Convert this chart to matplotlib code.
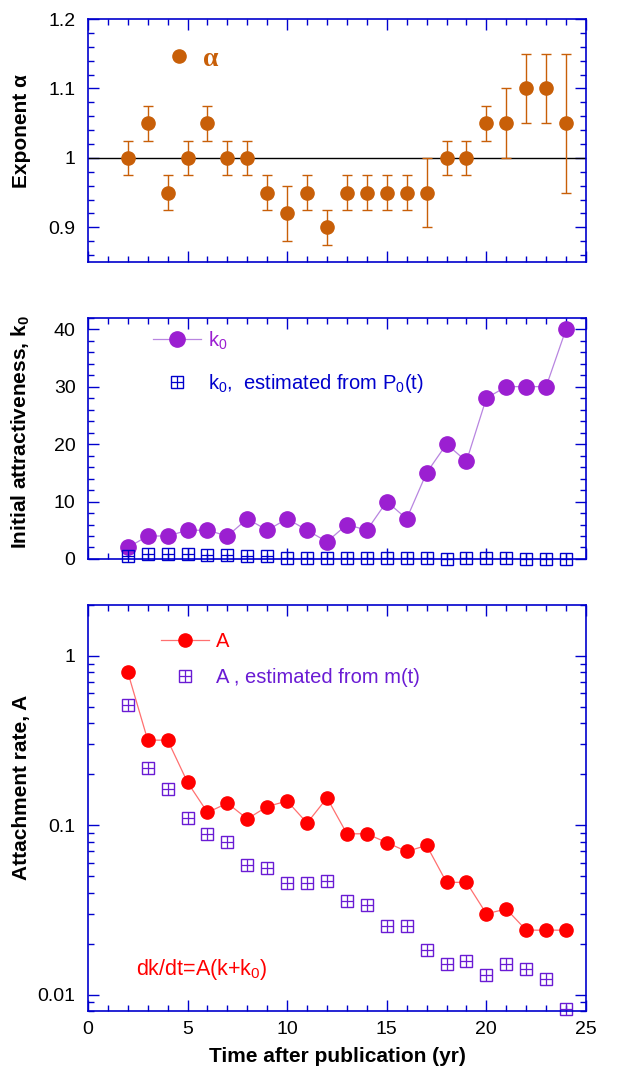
import numpy as np
import matplotlib
matplotlib.use('Agg')
import matplotlib.pyplot as plt
from matplotlib.ticker import MultipleLocator, FixedLocator, NullFormatter, LogLocator

plt.rcParams['font.family'] = ['Liberation Sans', 'DejaVu Sans']
plt.rcParams['mathtext.fontset'] = 'custom'
plt.rcParams['mathtext.rm'] = 'Liberation Sans'
plt.rcParams['mathtext.it'] = 'Liberation Sans:italic'
plt.rcParams['mathtext.bf'] = 'Liberation Sans:bold'

# data
years = list(range(2, 25))

alpha = [1.00, 1.05, 0.95, 1.00, 1.05, 1.00, 1.00, 0.95, 0.92, 0.95, 0.90, 0.95,
         0.95, 0.95, 0.95, 0.95, 1.00, 1.00, 1.05, 1.05, 1.10, 1.10, 1.05]
alpha_err = [0.025, 0.025, 0.025, 0.025, 0.025, 0.025, 0.025, 0.025, 0.04, 0.025, 0.025, 0.025,
             0.025, 0.025, 0.025, 0.05, 0.025, 0.025, 0.025, 0.05, 0.05, 0.05, 0.10]

k0 = [2, 4, 4, 5, 5, 4, 7, 5, 7, 5, 3, 6, 5, 10, 7, 15, 20, 17, 28, 30, 30, 30, 40]
k0_est = [0.6, 0.9, 0.9, 0.8, 0.7, 0.7, 0.45, 0.45, 0.25, 0.25, 0.25, 0.12,
          0.25, 0.25, 0.12, 0.12, 0.02, 0.25, 0.1, 0.1, 0.05, 0.05, 0.05]

A = [0.80, 0.318, 0.318, 0.179, 0.119, 0.135, 0.109, 0.129, 0.139, 0.103, 0.145, 0.089,
     0.089, 0.079, 0.070, 0.076, 0.046, 0.046, 0.030, 0.032, 0.024, 0.024, 0.024]
A_est = [0.515, 0.219, 0.164, 0.111, 0.089, 0.080, 0.0585, 0.0557, 0.0457, 0.0457, 0.047,
         0.0358, 0.0336, 0.0255, 0.0255, 0.0183, 0.0151, 0.0157, 0.0131, 0.0151, 0.0142,
         0.0124, 0.0082]

orange = '#C85F08'
purple = '#9B1FD1'
purple_line = '#B885E0'
blue = '#0000CC'
red = '#FF0000'
red_line = '#FF7070'
violet = '#6A1BD4'
axcol = '#0000CD'

fig = plt.figure(figsize=(6.17, 10.69), dpi=100)
left, width = 0.1426, 0.8071
ax1 = fig.add_axes([left, 0.7549, width, 0.2273])
ax2 = fig.add_axes([left, 0.4771, width, 0.2257])
ax3 = fig.add_axes([left, 0.0543, width, 0.3798])


def style(ax):
    for s in ax.spines.values():
        s.set_color(axcol)
        s.set_linewidth(1.2)
    ax.tick_params(which='both', direction='in', top=True, right=True, color=axcol,
                   labelsize=14, labelcolor='black')
    ax.tick_params(which='major', length=8, width=1)
    ax.tick_params(which='minor', length=4.5, width=1)
    ax.tick_params(axis='y', pad=9)
    ax.tick_params(axis='x', pad=7)
    ax.set_xlim(0, 25)
    ax.xaxis.set_major_locator(MultipleLocator(5))
    ax.xaxis.set_minor_locator(MultipleLocator(1))


# top panel: exponent alpha
style(ax1)
ax1.axhline(1, color='black', lw=1)
eb = ax1.errorbar(years, alpha, yerr=alpha_err, fmt='o', color=orange, ms=9.5,
                  ecolor=orange, elinewidth=1, capsize=3.5, capthick=1)
ax1.set_ylim(0.85, 1.2)
ax1.yaxis.set_major_locator(FixedLocator([0.9, 1.0, 1.1, 1.2]))
ax1.yaxis.set_minor_locator(MultipleLocator(0.02))
ax1.set_yticklabels(['0.9', '1', '1.1', '1.2'])
ax1.tick_params(axis='x', labelbottom=False)
ax1.set_ylabel('Exponent α', fontsize=15, fontweight='bold', va='baseline')
ax1.yaxis.set_label_coords(-0.1225, 0.539)
leg1 = ax1.legend([eb[0]], ['α'], loc='center left', bbox_to_anchor=(0.154, 0.835),
                  frameon=False, handlelength=1.0, handletextpad=0.37, borderpad=0,
                  borderaxespad=0,
                  prop={'family': 'Liberation Serif', 'weight': 'bold', 'size': 20})
for t in leg1.get_texts():
    t.set_color(orange)

# middle panel: initial attractiveness
style(ax2)
h1, = ax2.plot(years, k0, '-o', color=purple_line, lw=0.9, ms=11, mfc=purple, mec=purple)
hs, = ax2.plot(years, k0_est, 's', mfc='none', mec=blue, ms=8.4, mew=1, clip_on=False)
hp, = ax2.plot(years, k0_est, '+', mec=blue, ms=8.4, mew=0.9, clip_on=False)
ax2.set_ylim(0, 42)
ax2.yaxis.set_major_locator(MultipleLocator(10))
ax2.yaxis.set_minor_locator(MultipleLocator(2))
ax2.tick_params(axis='x', labelbottom=False)
ax2.set_ylabel(r'Initial attractiveness, k$_\mathregular{0}$', fontsize=15,
               fontweight='bold', va='baseline')
ax2.yaxis.set_label_coords(-0.1225, 0.526)
ax2.legend([h1, (hs, hp)],
           [r'k$_\mathregular{0}$', r'k$_\mathregular{0}$,  estimated from P$_\mathregular{0}$(t)'],
           loc='upper left', bbox_to_anchor=(0.11, 0.993), frameon=False,
           handlelength=2.4, handletextpad=0.35, borderpad=0, labelspacing=1.0,
           fontsize=14.5, labelcolor=[purple, blue])

# bottom panel: attachment rate
style(ax3)
ax3.set_yscale('log')
h3, = ax3.plot(years, A, '-o', color=red_line, lw=0.9, ms=9.5, mfc=red, mec=red)
hs3, = ax3.plot(years, A_est, 's', mfc='none', mec=violet, ms=8, mew=1, clip_on=False)
hp3, = ax3.plot(years, A_est, '+', mec=violet, ms=8, mew=0.9, clip_on=False)
ax3.set_ylim(0.008, 2.0)
ax3.yaxis.set_major_locator(FixedLocator([0.01, 0.1, 1]))
ax3.yaxis.set_minor_locator(LogLocator(base=10, subs=np.arange(2, 10)))
ax3.yaxis.set_minor_formatter(NullFormatter())
ax3.set_yticklabels(['0.01', '0.1', '1'])
ax3.set_ylabel('Attachment rate, A', fontsize=15, fontweight='bold', va='baseline')
ax3.yaxis.set_label_coords(-0.1225, 0.55)
ax3.set_xlabel('Time after publication (yr)', fontsize=15, fontweight='bold', labelpad=7)
leg3 = ax3.legend([h3, (hs3, hp3)], ['A', 'A , estimated from m(t)'],
                  loc='upper left', bbox_to_anchor=(0.126, 0.958), frameon=False,
                  handlelength=2.4, handletextpad=0.35, borderpad=0, labelspacing=0.85,
                  fontsize=14.5, labelcolor=[red, violet])
ax3.text(2.41, 0.0130, r'dk/dt=A(k+k$_\mathregular{0}$)', color=red, fontsize=15.5,
         ha='left', va='baseline')

fig.savefig('out.png', dpi=100)
